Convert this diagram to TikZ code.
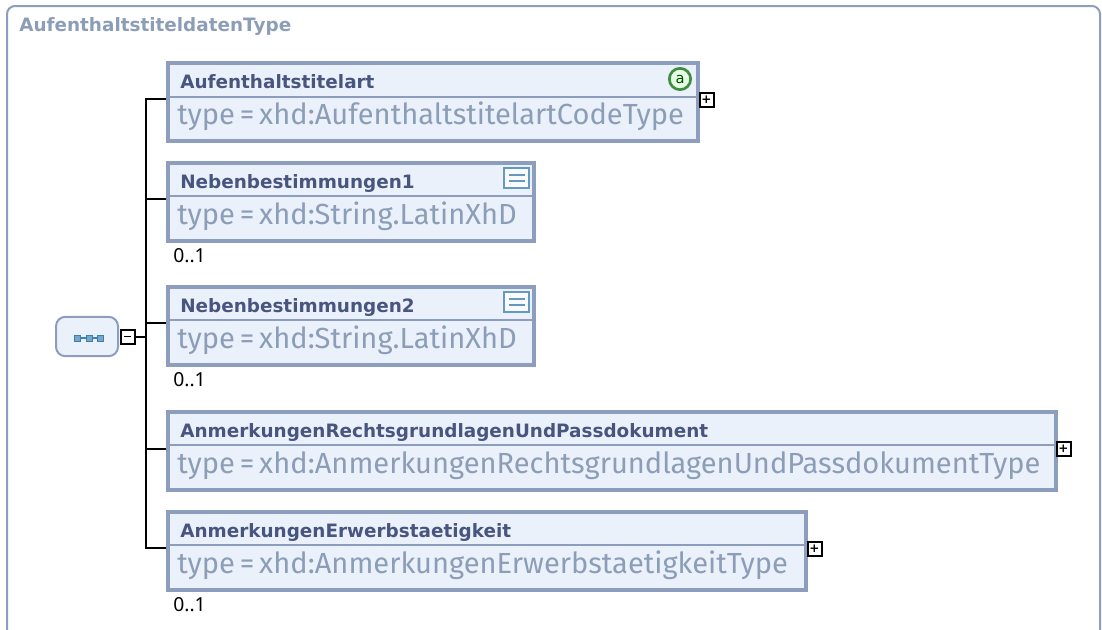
\documentclass[tikz,border=0pt]{standalone}
\usepackage{fontspec}
\setmainfont{Noto Sans}
\newfontfamily\headfont{DejaVu Sans}
\newfontfamily\typefont{Fira Sans}
\usetikzlibrary{calc}

\definecolor{rimcol}{HTML}{8C9DBD}
\definecolor{fillcol}{HTML}{EBF1FB}
\definecolor{headcol}{HTML}{47557F}
\definecolor{typecol}{HTML}{8C9DB8}
\definecolor{seqcol}{HTML}{3F7FB0}

\tikzset{
  elbox/.style={draw=rimcol, fill=fillcol, line width=3pt, anchor=north west, inner sep=0pt},
  elname/.style={anchor=base west, inner sep=0pt, text=headcol, font=\headfont\bfseries\fontsize{13.8}{16}\selectfont},
  eltype/.style={anchor=base west, inner sep=0pt, text=typecol, font=\typefont\fontsize{21.8}{24}\selectfont},
  occurs/.style={anchor=base west, inner sep=0pt, font=\fontsize{14.5}{16}\selectfont},
  expbox/.style={draw=black, fill=white, line width=1.5pt, minimum size=10.5pt, inner sep=0pt, font=\headfont\bfseries\fontsize{9}{9}\selectfont},
  docicon/.style={draw=seqcol!80, fill=white!70!fillcol, line width=1.5pt, minimum width=19pt, minimum height=15pt, inner sep=0pt},
  seqdot/.style={draw=seqcol, fill=seqcol!70, minimum size=4.5pt, inner sep=0pt, line width=.5pt},
  divider/.style={draw=rimcol, line width=1.5pt},
  branch/.style={draw=black, line width=1.5pt}
}

\begin{document}
\begin{tikzpicture}[x=0.75pt,y=-0.75pt]
  \useasboundingbox (0,0) rectangle (1102,629);

  % frame
  \draw [draw=rimcol, line width=1.5pt, rounded corners=6pt] (7,640) -- (7,6) -- (1100,6) -- (1100,640);
  \node [anchor=base west, inner sep=0pt, text=typecol, font=\headfont\bfseries\fontsize{13.8}{16}\selectfont] (title) at (19,31) {AufenthaltstiteldatenType};

  % element boxes
  \node [elbox, minimum width=397.5pt, minimum height=58.5pt] (art) at (166,61) {};
  \node [elbox, minimum width=274.5pt, minimum height=58.5pt] (neb1) at (166,161) {};
  \node [elbox, minimum width=274.5pt, minimum height=58.5pt] (neb2) at (166,285) {};
  \node [elbox, minimum width=666pt, minimum height=58.5pt] (anm) at (166,410) {};
  \node [elbox, minimum width=478.5pt, minimum height=58.5pt] (erw) at (166,510) {};

  \draw [divider] ($ (art.north west)+(0,36) $) -- ($ (art.north east)+(0,36) $);
  \draw [divider] ($ (neb1.north west)+(0,35) $) -- ($ (neb1.north east)+(0,35) $);
  \draw [divider] ($ (neb2.north west)+(0,35) $) -- ($ (neb2.north east)+(0,35) $);
  \draw [divider] ($ (anm.north west)+(0,35) $) -- ($ (anm.north east)+(0,35) $);
  \draw [divider] ($ (erw.north west)+(0,35) $) -- ($ (erw.north east)+(0,35) $);

  \node [elname] (artname) at (180,88) {Aufenthaltstitelart};
  \node [eltype] (arttype) at (177,124) {type\,=\,xhd:AufenthaltstitelartCodeType};
  \node [elname] (neb1name) at (180,188) {Nebenbestimmungen1};
  \node [eltype] (neb1type) at (177,224) {type\,=\,xhd:String.LatinXhD};
  \node [elname] (neb2name) at (180,312) {Nebenbestimmungen2};
  \node [eltype] (neb2type) at (177,348) {type\,=\,xhd:String.LatinXhD};
  \node [elname] (anmname) at (180,437) {AnmerkungenRechtsgrundlagenUndPassdokument};
  \node [eltype] (anmtype) at (177,473) {type\,=\,xhd:AnmerkungenRechtsgrundlagenUndPassdokumentType};
  \node [elname] (erwname) at (180,537) {AnmerkungenErwerbstaetigkeit};
  \node [eltype] (erwtype) at (177,573) {type\,=\,xhd:AnmerkungenErwerbstaetigkeitType};

  \node [occurs] (neb1occ) at (173,262) {0..1};
  \node [occurs] (neb2occ) at (173,386) {0..1};
  \node [occurs] (erwocc) at (173,611) {0..1};

  % icons
  \node [circle, draw=green!40!black!75, fill=green!10, line width=2pt, minimum size=16pt, inner sep=0pt, text=green!30!black, font=\headfont\fontsize{11}{11}\selectfont] (attr) at (680,79) {a};
  \node [docicon] (neb1doc) at (516.5,178) {};
  \node [docicon] (neb2doc) at (516.5,302) {};
  \draw [draw=seqcol!80, line width=.9pt] ($ (neb1doc.center)+(-8,-3) $) -- ($ (neb1doc.center)+(8,-3) $) ($ (neb1doc.center)+(-8,3) $) -- ($ (neb1doc.center)+(8,3) $);
  \draw [draw=seqcol!80, line width=.9pt] ($ (neb2doc.center)+(-8,-3) $) -- ($ (neb2doc.center)+(8,-3) $) ($ (neb2doc.center)+(-8,3) $) -- ($ (neb2doc.center)+(8,3) $);

  % sequence
  \node [draw=rimcol, fill=fillcol, line width=1.5pt, rounded corners=7pt, minimum width=46.5pt, minimum height=29.5pt, inner sep=0pt] (seq) at (87,336.5) {};
  \draw [draw=seqcol, line width=1pt] (77,338) -- (100.5,338);
  \node [seqdot] (seqa) at (77,338) {};
  \node [seqdot] (seqb) at (89,338) {};
  \node [seqdot] (seqc) at (100.5,338) {};

  % expanders
  \node [expbox] (seqx) at (127.5,336.5) {\raisebox{.3pt}{\rule{5pt}{1.2pt}}};
  \node [expbox] (artx) at (706.5,100) {+};
  \node [expbox] (anmx) at (1063.5,449) {+};
  \node [expbox] (erwx) at (814.5,549) {+};

  % connectors
  \coordinate (trunk) at (146,336.5);
  \draw [branch] (seqx.east) -- (trunk);
  \draw [branch] (art.west |- 0,99) -| (trunk);
  \draw [branch] (erw.west |- 0,548) -| (trunk);
  \draw [branch] (neb1.west |- 0,199) -- (trunk |- 0,199);
  \draw [branch] (neb2.west |- 0,323) -- (trunk |- 0,323);
  \draw [branch] (anm.west |- 0,449) -- (trunk |- 0,449);
\end{tikzpicture}
\end{document}
